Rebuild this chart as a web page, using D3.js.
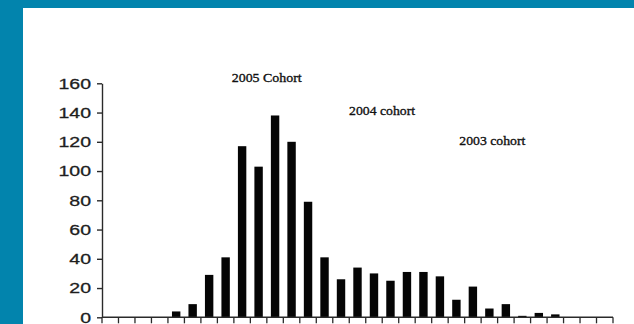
<!DOCTYPE html>
<html>
<head>
<meta charset="utf-8">
<script src="https://cdn.jsdelivr.net/npm/d3@7"></script>
<style>
  html, body { margin: 0; padding: 0; background: #0284ad; }
  svg { display: block; }
</style>
</head>
<body>
<svg id="chart" width="634" height="324"></svg>
<script>
// Age-class histogram with three cohort annotations
const bins = [1, 2, 3, 4, 5, 6, 7, 8, 9, 10, 11, 12, 13, 14, 15, 16,
              17, 18, 19, 20, 21, 22, 23, 24, 25, 26, 27, 28, 29, 30, 31];
const counts = [0, 0, 0, 0, 4, 9, 29, 41, 117, 103, 138, 120, 79, 41, 26, 34,
                30, 25, 31, 31, 28, 12, 21, 6, 9, 1, 3, 2, 0, 0, 0];
const yTicks = [0, 20, 40, 60, 80, 100, 120, 140, 160];
const cohortLabels = ["2005 Cohort", "2004 cohort", "2003 cohort"];
// annotation anchors, in bin units along x and count units along y
const cohortBinPos = [8.37, 15.49, 22.18];
const cohortCountPos = [161.2, 138.2, 118];

const svg = d3.select("#chart");

// page panel
svg.append("rect").attr("x", 0).attr("y", 0).attr("width", 634).attr("height", 324).attr("fill", "#0284ad");
svg.append("rect").attr("x", 23).attr("y", 8).attr("width", 611).attr("height", 316).attr("fill", "#ffffff");
const defs = svg.append("defs");
defs.append("filter").attr("id", "soft").append("feGaussianBlur").attr("stdDeviation", 0.8);
svg.append("line")
  .attr("x1", 27).attr("x2", 627).attr("y1", 10.5).attr("y2", 10.5)
  .attr("stroke", "#cfcfcf").attr("stroke-width", 2.2).attr("filter", "url(#soft)");

const plotLeft = 102, plotRight = 613, plotTop = 83.3, plotBottom = 317.3;

const x = d3.scaleBand().domain(bins).range([plotLeft, plotRight]).paddingInner(0.49).paddingOuter(0.245);
const xPos = d3.scaleLinear().domain([0.5, bins.length + 0.5]).range([plotLeft, plotRight]);
const y = d3.scaleLinear().domain([0, 160]).range([plotBottom, plotTop]);

const g = svg.append("g").attr("class", "plot");

// bars
g.selectAll("rect.bar").data(bins).join("rect")
  .attr("class", "bar")
  .attr("x", d => x(d))
  .attr("width", x.bandwidth())
  .attr("y", (d, i) => y(counts[i]))
  .attr("height", (d, i) => y(0) - y(counts[i]))
  .attr("fill", "#050505");

// y axis
const yAxis = d3.axisLeft(y).tickValues(yTicks).tickSize(5).tickSizeOuter(0).tickFormat(d3.format("d"));
const ya = svg.append("g").attr("transform", `translate(${plotLeft},0)`).call(yAxis);
ya.select(".domain").attr("stroke", "#2a2a2a").attr("stroke-width", 1.4);
ya.selectAll(".tick line").attr("stroke", "#2a2a2a").attr("stroke-width", 1.4);
ya.selectAll(".tick text").remove();
ya.selectAll(".tick").append("g")
  .attr("transform", "translate(-11,0) scale(1.3,1)")
  .append("text")
  .attr("text-anchor", "end")
  .attr("dy", "0.32em")
  .attr("fill", "#1e1e1e")
  .attr("stroke", "#1e1e1e")
  .attr("stroke-width", 0.3)
  .style("font-family", "'Liberation Sans', Arial, sans-serif")
  .style("font-size", "15px")
  .text(d => d);

// x axis: ticks at bin boundaries
const boundaries = bins.map(d => x(d) - x.step() * x.paddingInner() / 2).concat([plotRight]);
const xa = svg.append("g");
xa.append("line")
  .attr("x1", plotLeft).attr("x2", plotRight).attr("y1", plotBottom).attr("y2", plotBottom)
  .attr("stroke", "#2a2a2a").attr("stroke-width", 1.4);
xa.selectAll("line.tick").data(boundaries).join("line")
  .attr("class", "tick")
  .attr("x1", d => d).attr("x2", d => d)
  .attr("y1", plotBottom).attr("y2", plotBottom + 6)
  .attr("stroke", "#2a2a2a").attr("stroke-width", 1.3);

// cohort annotations
const labelWidths = [70, 66, 66];
svg.selectAll("text.cohort").data(cohortLabels).join("text")
  .attr("class", "cohort")
  .attr("x", (d, i) => xPos(cohortBinPos[i]))
  .attr("y", (d, i) => y(cohortCountPos[i]))
  .attr("textLength", (d, i) => labelWidths[i])
  .attr("lengthAdjust", "spacingAndGlyphs")
  .attr("fill", "#111")
  .attr("stroke", "#111")
  .attr("stroke-width", 0.35)
  .style("font-family", "'Liberation Serif', 'Times New Roman', serif")
  .style("font-size", "13px")
  .text(d => d);
</script>
</body>
</html>
